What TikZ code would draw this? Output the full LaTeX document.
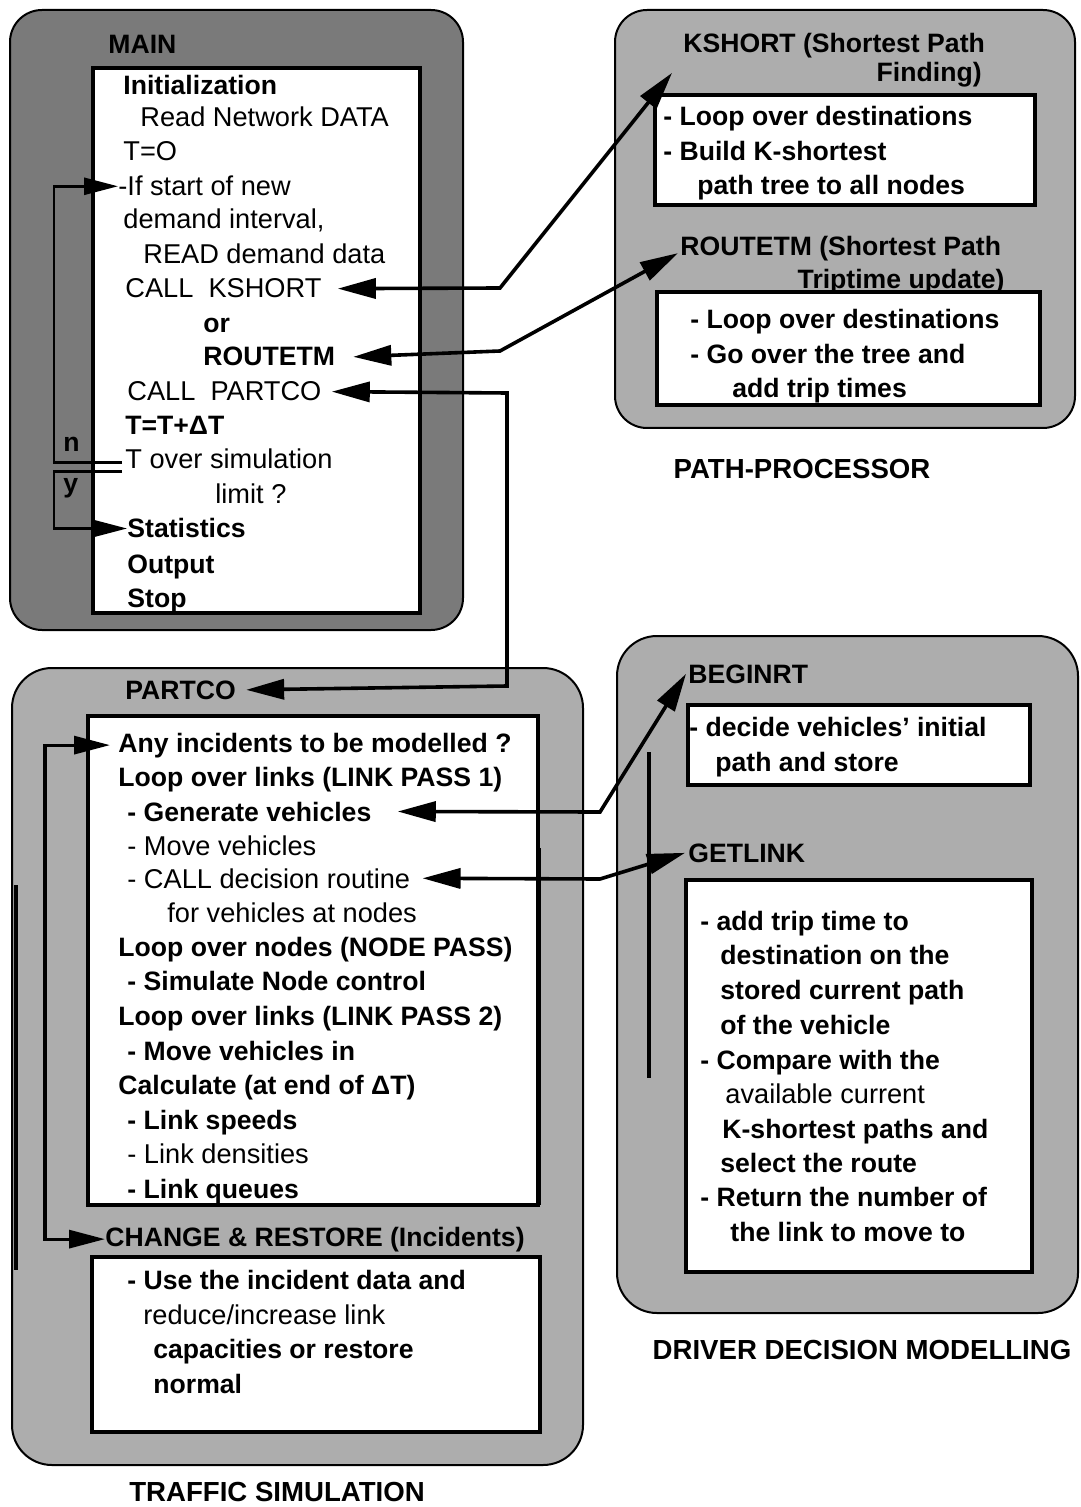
\documentclass[tikz,border=0pt]{standalone}
\usepackage{fontspec}
\setmainfont{Liberation Sans}
\usetikzlibrary{arrows.meta}
\definecolor{shadeM}{gray}{0.48}
\definecolor{shadeO}{gray}{0.68}
\begin{document}
\begin{tikzpicture}[x=0.5pt,y=-0.5pt,
  outerbox/.style={draw=black, line width=1pt, rounded corners=16pt, inner sep=0pt, outer sep=0pt},
  inbox/.style={draw=black, fill=white, line width=1.6pt, inner sep=0pt, outer sep=0pt},
  tr/.style={anchor=base west, inner sep=0pt, font=\fontsize{13.6}{16}\selectfont},
  tb/.style={anchor=base west, inner sep=0pt, font=\fontsize{13.3}{16}\selectfont\bfseries},
  tt/.style={anchor=base west, inner sep=0pt, font=\fontsize{13.3}{16}\selectfont\bfseries},
  captn/.style={inner sep=0pt, font=\fontsize{13.8}{16}\selectfont\bfseries},
  con/.style={line width=1.8pt, {Triangle[length=19pt,width=10pt]}-{Triangle[length=19pt,width=10pt]}},
  loopc/.style={line width=1.3pt, -{Triangle[length=17pt,width=8.5pt]}},
  loopt/.style={line width=1.6pt, {Triangle[length=18pt,width=9pt]}-{Triangle[length=18pt,width=9pt]}},
  scanln/.style={line width=1.6pt}
]
\useasboundingbox[fill=white] (0,0) rectangle (1080,1507);

% ---------- boxes ----------
\node[outerbox, fill=shadeM, minimum width=226.5pt, minimum height=310pt] (mainO) at (236.5,320) {};
\node[inbox, minimum width=163.5pt, minimum height=272.5pt] (mainI) at (256.5,340.5) {};

\node[outerbox, fill=shadeO, minimum width=230pt, minimum height=209pt] (pathO) at (845,219) {};
\node[inbox, minimum width=190pt, minimum height=55pt] (pathI1) at (845,150) {};
\node[inbox, minimum width=191.5pt, minimum height=56.5pt] (pathI2) at (848.5,348.5) {};

\node[outerbox, fill=shadeO, rounded corners=20pt, minimum width=285.5pt, minimum height=398.5pt] (trafO) at (297.5,1066.5) {};
\node[inbox, minimum width=225pt, minimum height=244.5pt] (trafI1) at (313,960.5) {};
\node[inbox, minimum width=224pt, minimum height=87.5pt] (trafI2) at (316,1344.5) {};

\node[outerbox, fill=shadeO, rounded corners=20pt, minimum width=230.5pt, minimum height=338.5pt] (drvO) at (847.5,974.5) {};
\node[inbox, minimum width=171pt, minimum height=40pt] (drvI1) at (859,745) {};
\node[inbox, minimum width=173pt, minimum height=196pt] (drvI2) at (859,1076) {};

% scan shadow strokes
\draw[scanln] (16,885) -- (16,1270);
\draw[scanln] (539,848) -- (539,1205);
\draw[scanln] (649,752) -- (649,1078);

% ---------- MAIN ----------
\node[tt] (mTitle) at (108,54) {MAIN};
\node[tb] (m1) at (123,95) {Initialization};
\node[tr] (m2) at (140,127) {Read Network DATA};
\node[tr] (m3) at (123,161) {T=O};
\node[tr] (mIf) at (118,196) {-If start of new};
\node[tr] (m5) at (123,229) {demand interval,};
\node[tr] (m6) at (143,264) {READ demand data};
\node[tr] (mK) at (125,298) {CALL\ \ KSHORT};
\node[tb] (mOr) at (203,333) {or};
\node[tb] (mR) at (203,366) {ROUTETM};
\node[tr] (mP) at (127,401) {CALL\ \ PARTCO};
\node[tb] (mDT) at (125,435) {T=T+ΔT};
\node[tr] (mT) at (125,469) {T over simulation};
\node[tr] (mL) at (215,503) {limit ?};
\node[tb] (mStat) at (127,538) {Statistics};
\node[tb] (mOut) at (127,573) {Output};
\node[tb] (mStop) at (127,607) {Stop};
\node[tb] (ln) at (63,452) {n};
\node[tb] (ly) at (63,493) {y};

% ---------- PATH-PROCESSOR ----------
\node[tt] (pkT) at (683,53) {KSHORT (Shortest Path};
\node[tt, anchor=base east] (pkT2) at (982,82) {Finding)};
\node[tb] (pk1) at (663,126) {- Loop over destinations};
\node[tb] (pk2) at (663,161) {- Build K-shortest};
\node[tb] (pk3) at (697,195) {path tree to all nodes};
\node[tt] (prT) at (680,256) {ROUTETM (Shortest Path};
\node[tt, anchor=base east] (prT2) at (1005,289) {Triptime update)};
\node[tb] (pr1) at (690,329) {- Loop over destinations};
\node[tb] (pr2) at (690,364) {- Go over the tree and};
\node[tb] (pr3) at (732,398) {add trip times};
\node[captn] (pCap) at (802,469) {PATH-PROCESSOR};

% ---------- TRAFFIC SIMULATION ----------
\node[tt] (tP) at (125,699) {PARTCO};
\node[tb] (tAny) at (118,752) {Any incidents to be modelled ?};
\node[tb] (t2) at (118,786) {Loop over links (LINK PASS 1)};
\node[tb] (tGen) at (127,821) {- Generate vehicles};
\node[tr] (t4) at (127,855) {- Move vehicles};
\node[tr] (tCall) at (127,888) {- CALL decision routine};
\node[tr] (t6) at (167,922) {for vehicles at nodes};
\node[tb] (t7) at (118,956) {Loop over nodes (NODE PASS)};
\node[tb] (t8) at (127,990) {- Simulate Node control};
\node[tb] (t9) at (118,1025) {Loop over links (LINK PASS 2)};
\node[tb] (t10) at (127,1060) {- Move vehicles in};
\node[tb] (t11) at (118,1094) {Calculate (at end of ΔT)};
\node[tb] (t12) at (127,1129) {- Link speeds};
\node[tr] (t13) at (127,1163) {- Link densities};
\node[tb] (t14) at (127,1198) {- Link queues};
\node[tt] (tCR) at (105,1246) {CHANGE \& RESTORE (Incidents)};
\node[tb] (c1) at (127,1289) {- Use the incident data and};
\node[tr] (c2) at (143,1324) {reduce/increase link};
\node[tb] (c3) at (153,1358) {capacities or restore};
\node[tb] (c4) at (153,1393) {normal};
\node[captn] (tCap) at (277,1492) {TRAFFIC SIMULATION};

% ---------- DRIVER DECISION MODELLING ----------
\node[tt] (dB) at (688,683) {BEGINRT};
\node[tb] (d1) at (689,736) {- decide vehicles' initial};
\node[tb] (d2) at (715,771) {path and store};
\node[tt] (dG) at (688,862) {GETLINK};
\node[tb] (e1) at (700,930) {- add trip time to};
\node[tb] (e2) at (720,964) {destination on the};
\node[tb] (e3) at (720,999) {stored current path};
\node[tb] (e4) at (720,1034) {of the vehicle};
\node[tb] (e5) at (700,1069) {- Compare with the};
\node[tr] (e6) at (725,1103) {available current};
\node[tb] (e7) at (722,1138) {K-shortest paths and};
\node[tb] (e8) at (720,1172) {select the route};
\node[tb] (e9) at (700,1206) {- Return the number of};
\node[tb] (e10) at (730,1241) {the link to move to};
\node[captn] (dCap) at (862,1350) {DRIVER DECISION MODELLING};

% ---------- connectors ----------
\coordinate (k1) at (500,288);
\coordinate (r1) at (500,351);
\coordinate (p1) at (507,393);
\coordinate (p2) at (507,686);
\coordinate (g1) at (600,812);
\coordinate (g2) at (600,879);

\draw[con] ([xshift=8pt]mK.east) -- (k1) -- ([xshift=-5.5pt,yshift=-7pt]pkT.south west);
\draw[con] ([xshift=9pt]mR.east) -- (r1) -- ([xshift=-1pt,yshift=-2pt]prT.west);
\draw[con] ([xshift=5pt]mP.east) -- (p1) -- (p2) -- ([xshift=5pt]tP.east);
\draw[con] ([xshift=13pt]tGen.east) -- (g1) -- ([xshift=-1pt]dB.west);
\draw[con] ([xshift=6pt]tCall.east) -- (g2) -- ([xshift=-1.5pt]dG.west);

% MAIN decision loop
\draw[loopc] ([xshift=-1.5pt,yshift=-1.5pt]mT.west) -- ++(-68,0) |- (mIf.west);
\draw[loopc] ([xshift=-1.5pt,yshift=-6pt]mT.west) -- ++(-68,0) |- (mStat.west);

% TRAFFIC loop
\draw[loopt] ([xshift=-4pt]tAny.west) -- ++(-65,0) |- (tCR.west);
\end{tikzpicture}
\end{document}
